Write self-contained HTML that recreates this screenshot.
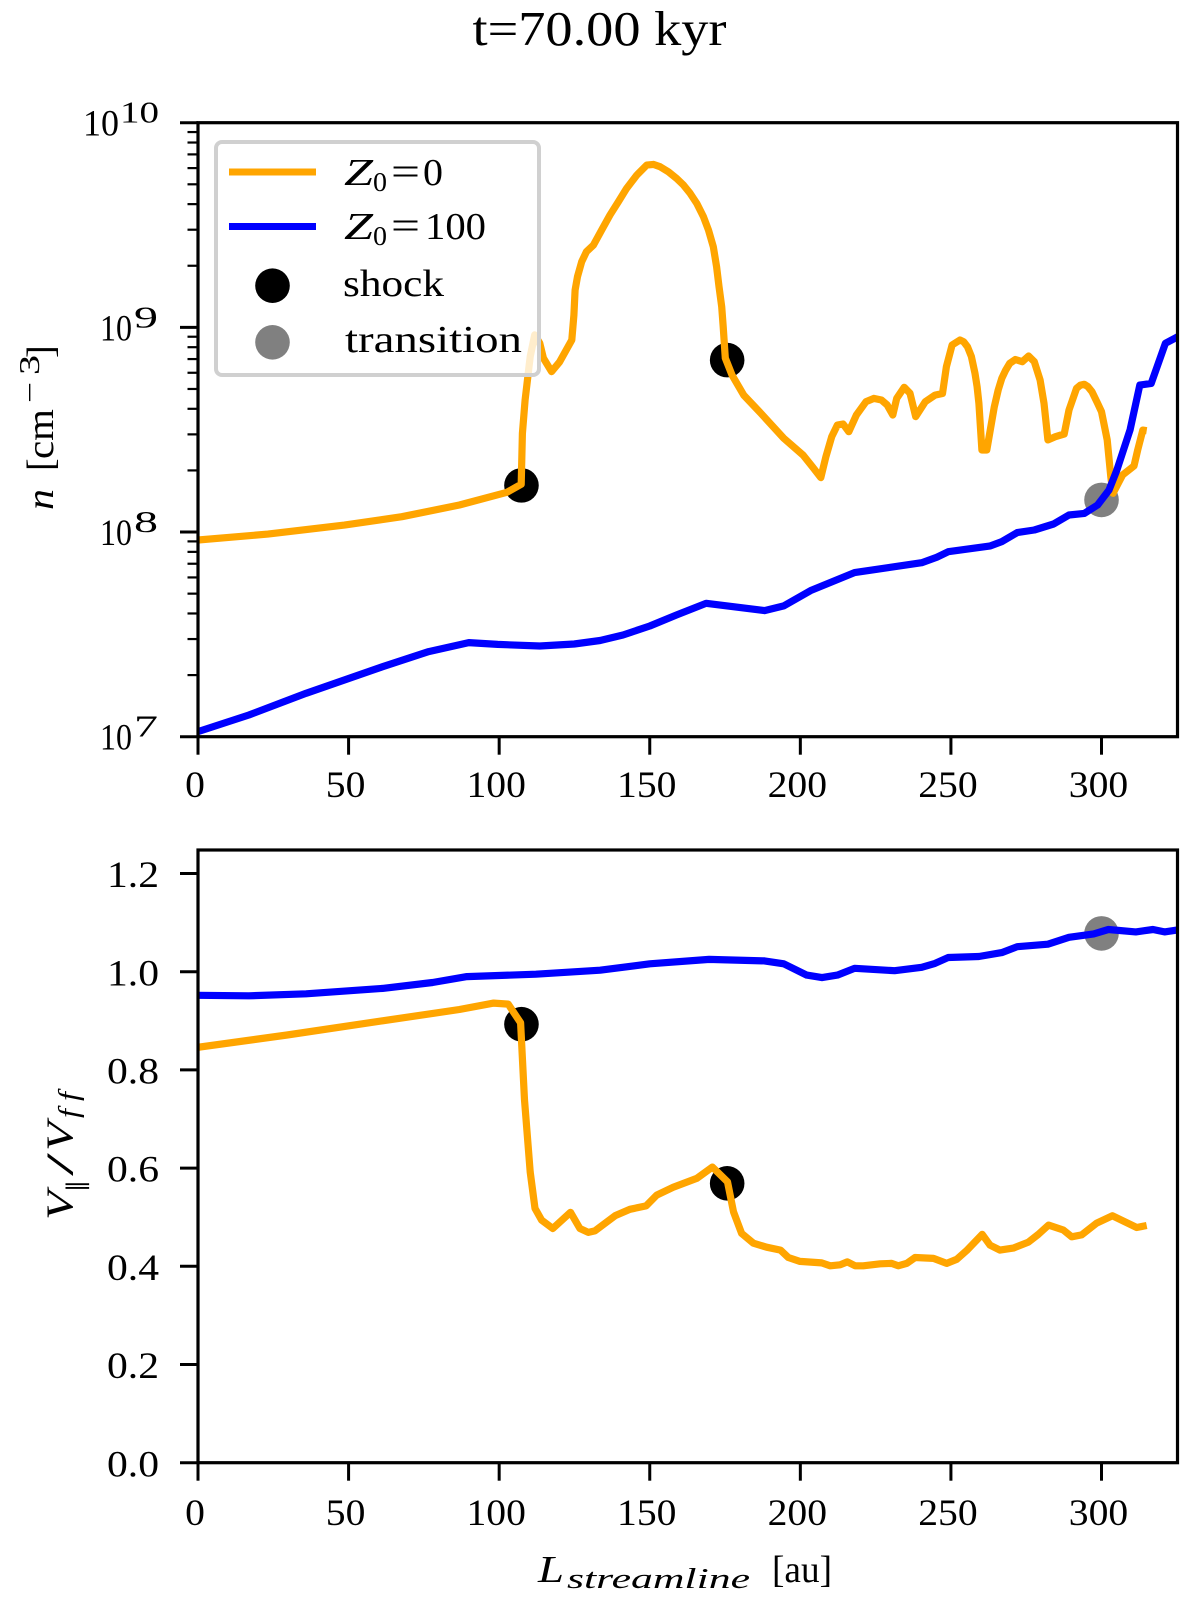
<!DOCTYPE html>
<html lang="en">
<head>
<meta charset="utf-8">
<title>t=70.00 kyr</title>
<style>
html,body{margin:0;padding:0;background:#fff;}
svg{display:block;}
text{font-family:"Liberation Serif",serif;fill:#000;}
.i{font-style:italic;}
</style>
</head>
<body>
<svg id="fig" xmlns="http://www.w3.org/2000/svg" width="1200" height="1607" viewBox="0 0 1200 1607">
  <rect x="0" y="0" width="1200" height="1607" fill="#fff"/>
  <defs>
    <clipPath id="clipTop"><rect x="198" y="122.7" width="979.5" height="614"/></clipPath>
    <clipPath id="clipBot"><rect x="198" y="850" width="979.5" height="612.7"/></clipPath>
  </defs>
  <text x="472.5" y="45" font-size="49" textLength="254" lengthAdjust="spacingAndGlyphs">t=70.00 kyr</text>

  <g id="topMarks" clip-path="url(#clipTop)"></g>
  <g id="botMarks" clip-path="url(#clipBot)"></g>
  <g id="axesLayer"></g>

  <g>
    <text class="i" transform="translate(53,510) rotate(-90)" font-size="38" textLength="21" lengthAdjust="spacingAndGlyphs">n</text>
    <text transform="translate(53,471) rotate(-90)" font-size="38">[</text>
    <text transform="translate(53,459) rotate(-90)" font-size="38" textLength="50" lengthAdjust="spacingAndGlyphs">cm</text>
    <text transform="translate(39,403) rotate(-90)" font-size="28" textLength="21" lengthAdjust="spacingAndGlyphs">−</text>
    <text transform="translate(39,375) rotate(-90)" font-size="29" textLength="20" lengthAdjust="spacingAndGlyphs">3</text>
    <text transform="translate(53,358) rotate(-90)" font-size="38">]</text>
  </g>

  <g>
    <text class="i" transform="translate(72.5,1220) rotate(-90)" font-size="38" textLength="29" lengthAdjust="spacingAndGlyphs">V</text>
    <text transform="translate(84,1192) rotate(-90)" font-size="24" textLength="12" lengthAdjust="spacingAndGlyphs">∥</text>
    <text transform="translate(72.5,1176) rotate(-90)" font-size="38" textLength="23" lengthAdjust="spacingAndGlyphs">/</text>
    <text class="i" transform="translate(72.5,1151) rotate(-90)" font-size="38" textLength="29" lengthAdjust="spacingAndGlyphs">V</text>
    <text class="i" transform="translate(78,1118) rotate(-90)" font-size="28" textLength="26" lengthAdjust="spacingAndGlyphs">f f</text>
  </g>

  <g>
    <text class="i" x="538" y="1582" font-size="38" textLength="26" lengthAdjust="spacingAndGlyphs">L</text>
    <text class="i" x="567" y="1588" font-size="28" textLength="183" lengthAdjust="spacingAndGlyphs">streamline</text>
    <text x="772" y="1582" font-size="38" textLength="60" lengthAdjust="spacingAndGlyphs">[au]</text>
  </g>

  <g>
    <rect x="216" y="142" width="323" height="233" rx="6" ry="6" fill="#fff" fill-opacity="0.8" stroke="#d0d0d0" stroke-width="4"/>
    <g>
      <rect x="229" y="168.5" width="87" height="7" fill="#ffa500"/>
      <text class="i" x="344" y="185" font-size="38" textLength="29" lengthAdjust="spacingAndGlyphs">Z</text>
      <text x="373" y="191" font-size="27" textLength="14" lengthAdjust="spacingAndGlyphs">0</text>
      <text x="391" y="185" font-size="40" textLength="29" lengthAdjust="spacingAndGlyphs">=</text>
      <text x="423" y="185" font-size="38" textLength="20" lengthAdjust="spacingAndGlyphs">0</text>
    </g>
    <g>
      <rect x="229" y="223" width="87" height="7" fill="#0000ff"/>
      <text class="i" x="344" y="239" font-size="38" textLength="29" lengthAdjust="spacingAndGlyphs">Z</text>
      <text x="373" y="245" font-size="27" textLength="14" lengthAdjust="spacingAndGlyphs">0</text>
      <text x="391" y="239" font-size="40" textLength="29" lengthAdjust="spacingAndGlyphs">=</text>
      <text x="425" y="239" font-size="38" textLength="61" lengthAdjust="spacingAndGlyphs">100</text>
    </g>
    <g>
      <circle cx="272.5" cy="285.7" r="17.3" fill="#000"/>
      <text x="343" y="296" font-size="38" textLength="101" lengthAdjust="spacingAndGlyphs">shock</text>
    </g>
    <g>
      <circle cx="272.5" cy="342.3" r="17.3" fill="#808080"/>
      <text x="345" y="352" font-size="38" textLength="177" lengthAdjust="spacingAndGlyphs">transition</text>
    </g>
  </g>
</svg>

<script>
// Chart data
const xTickValues = [0, 50, 100, 150, 200, 250, 300];
const logNTickDecades = [7, 8, 9, 10];
const vTickValues = [0.0, 0.2, 0.4, 0.6, 0.8, 1.0, 1.2];
const vTickLabels = ['0.0', '0.2', '0.4', '0.6', '0.8', '1.0', '1.2'];

// Top panel: L [au] and log10(n)
const orangeDensityL = [0, 23.2, 48.6, 67.7, 86.8, 102.6, 107.3, 107.7, 108.6, 110.3, 111.8, 113.5, 114.7, 117.4, 120, 124.1, 124.8, 125.2, 126, 127.4, 129, 131.3, 134, 136.8, 139.6, 142.3, 145.7, 149, 151.2, 153.4, 156.2, 158.9, 161.2, 163.4, 165.6, 167.8, 169.5, 171.1, 172.2, 173, 173.9, 174.4, 175.1, 177.3, 181.2, 186.9, 194.5, 200.9, 204, 206.8, 208.5, 210.4, 212.3, 214.2, 216.1, 218.6, 221.8, 224.4, 226.9, 228.8, 230.7, 232, 234.5, 236.4, 238.3, 241.5, 244.7, 247.2, 248.5, 250.4, 253, 254.2, 255.5, 256.8, 258, 258.7, 259.3, 259.8, 260.3, 261.9, 264.4, 265.7, 266.9, 268.2, 269.5, 271.4, 273.7, 275.8, 277.7, 279.6, 280.9, 282.2, 284.7, 287.6, 289.2, 291.7, 293, 294.3, 295.5, 296.8, 298.7, 300, 301.9, 303.1, 303.8, 307, 310.8, 312, 313.7, 315];
const orangeDensityLogN = [7.961, 7.99, 8.034, 8.075, 8.132, 8.194, 8.233, 8.482, 8.645, 8.857, 8.963, 8.922, 8.85, 8.784, 8.83, 8.938, 9.06, 9.182, 9.248, 9.321, 9.37, 9.402, 9.475, 9.549, 9.614, 9.679, 9.744, 9.793, 9.796, 9.785, 9.76, 9.728, 9.695, 9.655, 9.606, 9.541, 9.475, 9.394, 9.296, 9.199, 9.101, 9.003, 8.85, 8.767, 8.669, 8.58, 8.458, 8.376, 8.319, 8.266, 8.368, 8.466, 8.523, 8.528, 8.49, 8.572, 8.637, 8.653, 8.645, 8.621, 8.572, 8.653, 8.707, 8.678, 8.564, 8.637, 8.669, 8.677, 8.808, 8.914, 8.938, 8.93, 8.905, 8.857, 8.775, 8.71, 8.629, 8.515, 8.401, 8.401, 8.612, 8.694, 8.751, 8.791, 8.824, 8.843, 8.832, 8.86, 8.832, 8.743, 8.629, 8.45, 8.466, 8.479, 8.596, 8.702, 8.718, 8.722, 8.71, 8.686, 8.629, 8.588, 8.45, 8.27, 8.189, 8.279, 8.323, 8.401, 8.498, 8.495];
const blueDensityL = [0, 16.9, 35.9, 61.3, 76.6, 89.9, 99.5, 113.5, 124.9, 133.5, 141.1, 150, 158.9, 168.7, 188.1, 194.5, 203.4, 218, 240.3, 245.3, 249.1, 263.1, 266.9, 272, 277.7, 284.1, 289.2, 294.3, 298.7, 302.5, 305.1, 309.5, 312.7, 316.5, 321.2, 324.8, 325.3];
const blueDensityLogN = [7.025, 7.106, 7.212, 7.342, 7.416, 7.46, 7.451, 7.443, 7.453, 7.47, 7.497, 7.541, 7.595, 7.652, 7.616, 7.639, 7.714, 7.802, 7.85, 7.877, 7.904, 7.932, 7.953, 7.997, 8.01, 8.039, 8.083, 8.091, 8.132, 8.205, 8.303, 8.5, 8.718, 8.726, 8.922, 8.95, 8.955];

// Bottom panel: L [au] and V_par / V_ff
const orangeVelocityL = [0, 29.6, 61.3, 86.8, 98.2, 103, 107.1, 108.4, 110.3, 111.9, 114.1, 117.8, 123.7, 126.8, 129.6, 131.8, 138.5, 143.4, 148.8, 152.3, 157.8, 165.6, 170.8, 175.8, 177.8, 180.5, 184.4, 188.8, 193.4, 196, 199.9, 207.1, 209.9, 213.2, 215.6, 218.2, 220.9, 226.5, 230.3, 232.5, 235.3, 238.1, 244.2, 248.6, 251.9, 255.2, 260.4, 263, 266.3, 270.7, 275.7, 279, 282.4, 287.3, 290.1, 293.4, 298.4, 303.6, 311.7, 315];
const orangeVelocity = [0.846, 0.871, 0.9, 0.923, 0.936, 0.934, 0.896, 0.739, 0.592, 0.518, 0.494, 0.477, 0.51, 0.477, 0.469, 0.472, 0.503, 0.516, 0.523, 0.545, 0.561, 0.579, 0.602, 0.572, 0.511, 0.467, 0.447, 0.439, 0.433, 0.418, 0.41, 0.407, 0.401, 0.403, 0.409, 0.401, 0.401, 0.405, 0.406, 0.401, 0.406, 0.418, 0.416, 0.406, 0.414, 0.432, 0.465, 0.443, 0.433, 0.437, 0.449, 0.465, 0.484, 0.474, 0.46, 0.464, 0.488, 0.503, 0.479, 0.483];
const blueVelocityL = [0, 16.9, 35.9, 61.3, 77.9, 89.3, 112.2, 133.5, 150, 169.7, 188.1, 194.5, 202.1, 207.2, 212.3, 218, 231.3, 240.3, 244.7, 249.1, 259.3, 266.9, 272, 282.2, 289.2, 297.4, 302.3, 311.4, 317.1, 320.9, 325.3];
const blueVelocity = [0.952, 0.951, 0.955, 0.966, 0.978, 0.99, 0.995, 1.003, 1.016, 1.025, 1.022, 1.016, 0.993, 0.988, 0.993, 1.007, 1.002, 1.009, 1.017, 1.029, 1.031, 1.039, 1.051, 1.056, 1.07, 1.077, 1.086, 1.081, 1.086, 1.081, 1.085];

// Markers
const shockL = [107.4, 175.7];
const shockLogN = [8.228, 8.84];
const shockVelocity = [0.893, 0.569];
const transitionL = [300];
const transitionLogN = [8.157];
const transitionVelocity = [1.078];

const SVGNS = 'http://www.w3.org/2000/svg';
const LEFT = 198, RIGHT = 1177.5;
const TOP1 = 122.7, BOT1 = 736.7, TOP2 = 850, BOT2 = 1462.7;

function xScale(v) { return LEFT + v * 3.0117; }
function yLogN(v) { return BOT1 - (v - 7) * 204.67; }
function yVel(v) { return BOT2 - v * 491; }

function mk(tag, attrs, parent, txt) {
  const el = document.createElementNS(SVGNS, tag);
  for (const k in attrs) el.setAttribute(k, attrs[k]);
  if (txt !== undefined) el.textContent = txt;
  parent.appendChild(el);
  return el;
}
function pts(xs, ys, yf) {
  return xs.map(function (x, i) { return xScale(x).toFixed(1) + ',' + yf(ys[i]).toFixed(1); }).join(' ');
}

const topMarks = document.getElementById('topMarks');
const botMarks = document.getElementById('botMarks');
const axesLayer = document.getElementById('axesLayer');

function drawPanel(host, yf, sL, sY, tL, tY, oL, oY, bL, bY) {
  sL.forEach(function (x, i) {
    const c = mk('circle', { cx: xScale(x), cy: yf(sY[i]), r: 17.3, fill: '#000' }, host);
    
    
  });
  tL.forEach(function (x, i) {
    const c = mk('circle', { cx: xScale(x), cy: yf(tY[i]), r: 17.3, fill: '#808080' }, host);
    
    
  });
  const o = mk('polyline', { points: pts(oL, oY, yf), fill: 'none', stroke: '#ffa500', 'stroke-width': 7.2, 'stroke-linejoin': 'round', 'stroke-linecap': 'butt' }, host);
  
  
  const b = mk('polyline', { points: pts(bL, bY, yf), fill: 'none', stroke: '#0000ff', 'stroke-width': 7.2, 'stroke-linejoin': 'round', 'stroke-linecap': 'butt' }, host);
  
  
}
drawPanel(topMarks, yLogN, shockL, shockLogN, transitionL, transitionLogN, orangeDensityL, orangeDensityLogN, blueDensityL, blueDensityLogN);
drawPanel(botMarks, yVel, shockL, shockVelocity, transitionL, transitionVelocity, orangeVelocityL, orangeVelocity, blueVelocityL, blueVelocity);

function tickLine(x1, y1, x2, y2, w) {
  const l = mk('line', { x1: x1, y1: y1, x2: x2, y2: y2, stroke: '#000', 'stroke-width': w }, axesLayer);
  return l;
}

function drawXAxis(bottom, labelY) {
  xTickValues.forEach(function (v) {
    const x = xScale(v);
    const t = tickLine(x, bottom, x, bottom + 18, 3);
    
    
    const s = String(v);
    const lab = mk('text', { x: x - 3, y: labelY, 'font-size': 37, 'text-anchor': 'middle', textLength: s.length * 19.8, lengthAdjust: 'spacingAndGlyphs' }, axesLayer, s);
    
    
  });
}
drawXAxis(BOT1, 797);
drawXAxis(BOT2, 1525);

// Log axis ticks and labels
logNTickDecades.forEach(function (d) {
  const y = yLogN(d);
  const t = tickLine(LEFT - 18, y, LEFT, y, 3);
  
  
  const sup = String(d);
  const two = sup.length === 2;
  const base = mk('text', { x: two ? 83 : 100, y: y + 13, 'font-size': 37, textLength: two ? 36 : 32, lengthAdjust: 'spacingAndGlyphs' }, axesLayer, '10');
  
  
  const exp = mk('text', { x: two ? 120 : 134, y: y, 'font-size': 31, textLength: two ? 39 : 24, lengthAdjust: 'spacingAndGlyphs' }, axesLayer, sup);
  
  
  if (d < 10) {
    [2, 3, 4, 5, 6, 7, 8, 9].forEach(function (m) {
      const ym = yLogN(d + Math.log10(m));
      const mt = tickLine(LEFT - 10.5, ym, LEFT, ym, 2.2);
      
      
    });
  }
});

// Linear axis ticks and labels
vTickValues.forEach(function (v, i) {
  const y = yVel(v);
  const t = tickLine(LEFT - 18, y, LEFT, y, 3);
  
  
  const lab = mk('text', { x: 159, y: y + 13.6, 'font-size': 37, 'text-anchor': 'end', textLength: 52, lengthAdjust: 'spacingAndGlyphs' }, axesLayer, vTickLabels[i]);
  
  
});

// Spines
const frameTop = mk('rect', { x: LEFT, y: TOP1, width: RIGHT - LEFT, height: BOT1 - TOP1, fill: 'none', stroke: '#000', 'stroke-width': 3.2 }, axesLayer);


const frameBot = mk('rect', { x: LEFT, y: TOP2, width: RIGHT - LEFT, height: BOT2 - TOP2, fill: 'none', stroke: '#000', 'stroke-width': 3.2 }, axesLayer);


</script>
</body>
</html>
